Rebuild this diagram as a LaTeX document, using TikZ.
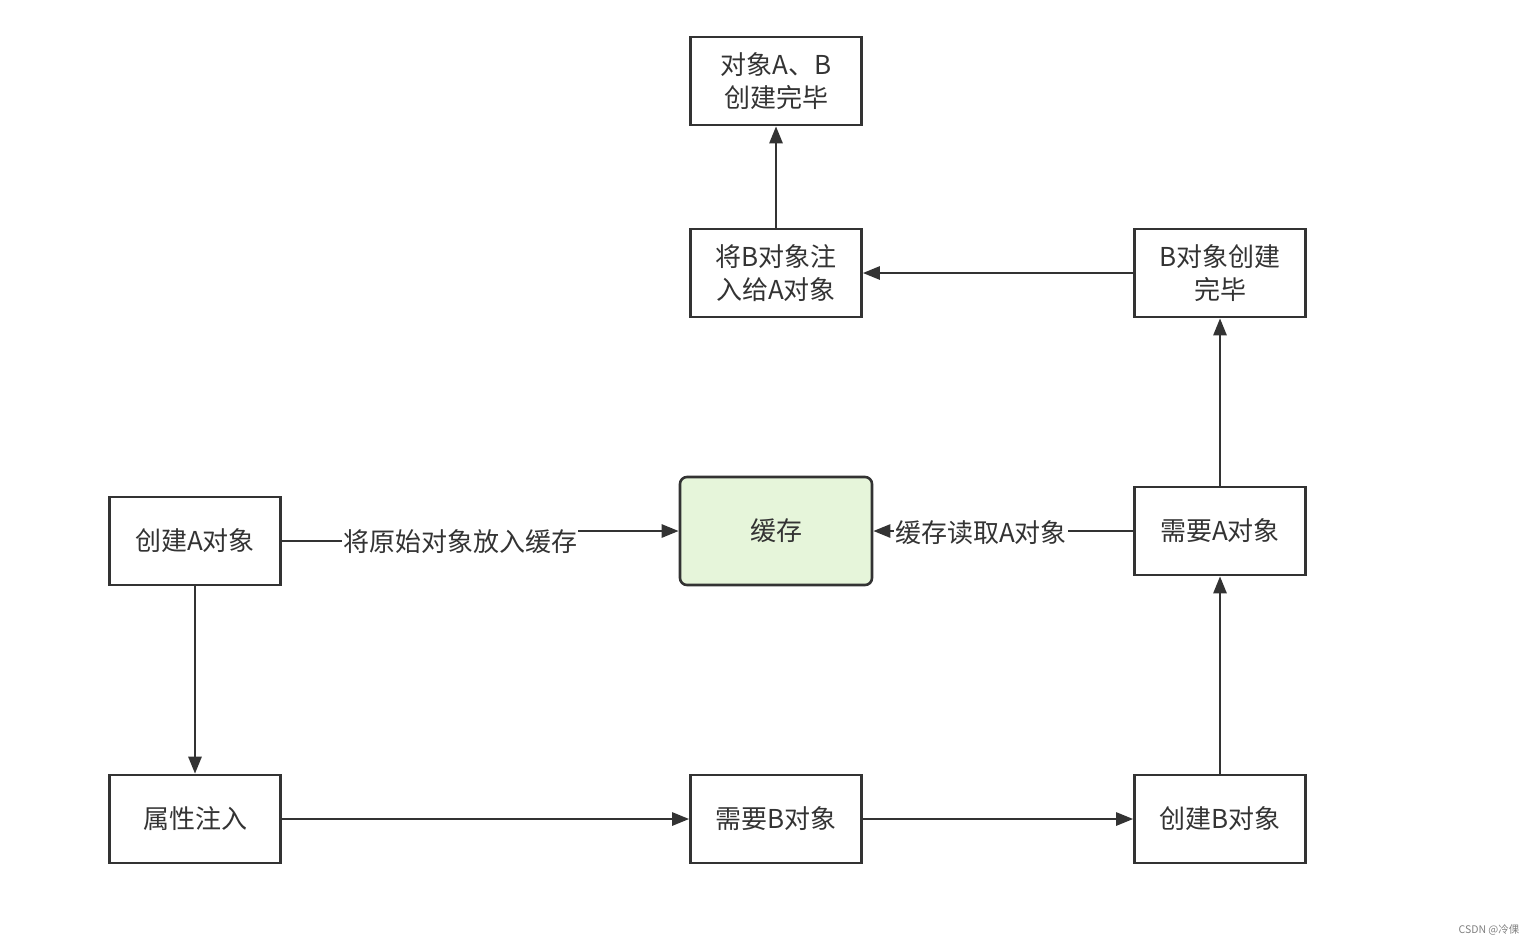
\documentclass[tikz,border=0pt]{standalone}
\usepackage{fontspec}
\setmainfont{Noto Sans CJK SC}
\usetikzlibrary{arrows.meta}
\definecolor{ln}{HTML}{333333}
\definecolor{cachefill}{HTML}{E6F5DA}
\begin{document}
\begin{tikzpicture}[x=1pt,y=-1pt,
  box/.style={draw=ln,line width=2.6pt,minimum width=171pt,minimum height=88pt,inner sep=0pt,align=center,font=\fontsize{26}{33}\selectfont,text=ln},
  cachebox/.style={box,fill=cachefill,rounded corners=7pt,minimum width=192pt,minimum height=108pt},
  conn/.style={draw=ln,line width=2.6pt,-{Triangle[length=17pt,width=13pt]}},
  plain/.style={draw=ln,line width=2.6pt},
  lbl/.style={font=\fontsize{26}{32}\selectfont,text=ln,inner sep=1pt}]
\useasboundingbox (0,0) rectangle (1538,946);
\node[box] (done) at (776,81) {对象A、B\\创建完毕};
\node[box] (inject) at (776,273) {将B对象注\\入给A对象};
\node[box] (bdone) at (1220,273) {B对象创建\\完毕};
\node[cachebox] (cache) at (776,531) {缓存};
\node[box] (needA) at (1220,531) {需要A对象};
\node[box] (createA) at (195,541) {创建A对象};
\node[box] (prop) at (195,819) {属性注入};
\node[box] (needB) at (776,819) {需要B对象};
\node[box] (createB) at (1220,819) {创建B对象};
\node[lbl] (l1) at (460,542) {将原始对象放入缓存};
\node[lbl] (l2) at (981,533) {缓存读取A对象};
\node[font=\fontsize{10.5}{12}\selectfont,text=gray] (wm) at (1489,930) {CSDN @冷倮};
\draw[plain] (createA.east) -- (createA.east -| l1.west);
\draw[conn] (l1.east |- cache.west) -- (cache.west);
\draw[plain] (needA.west) -- (needA.west -| l2.east);
\draw[conn] (l2.west |- cache.east) -- (cache.east);
\draw[conn] (createA) -- (prop);
\draw[conn] (prop) -- (needB);
\draw[conn] (needB) -- (createB);
\draw[conn] (createB) -- (needA);
\draw[conn] (needA) -- (bdone);
\draw[conn] (bdone) -- (inject);
\draw[conn] (inject) -- (done);
\end{tikzpicture}
\end{document}
